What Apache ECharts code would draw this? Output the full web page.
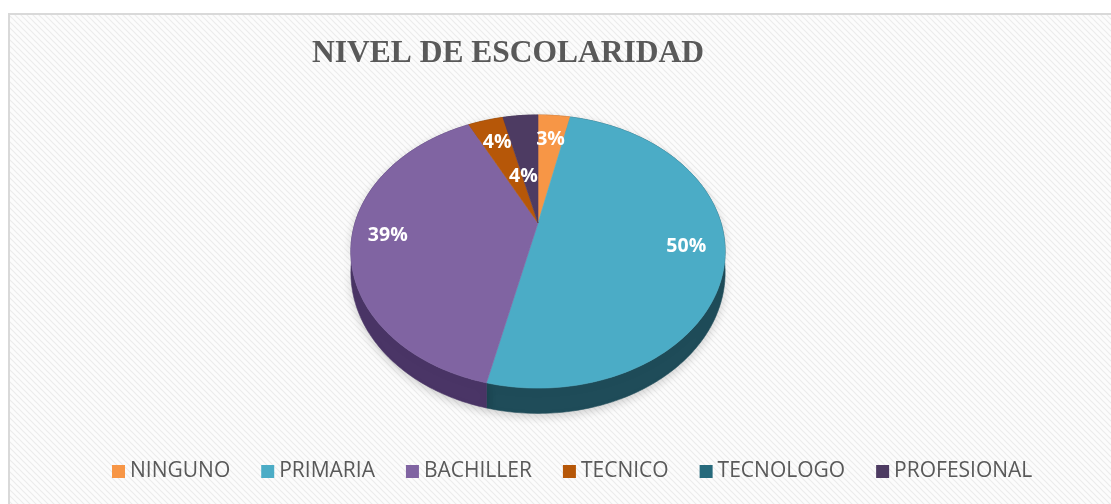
<!DOCTYPE html>
<html><head><meta charset="utf-8">
<script src="https://cdn.jsdelivr.net/npm/echarts@6/dist/echarts.min.js"></script>
<style>html,body{margin:0;padding:0;background:#fff}#c{width:1111px;height:504px}</style>
</head><body><div id="c"></div>
<script>
const titleText = 'NIVEL DE ESCOLARIDAD';
const categories = ['NINGUNO', 'PRIMARIA', 'BACHILLER', 'TECNICO', 'TECNOLOGO', 'PROFESIONAL'];
const values = [3.4, 50.2, 39.0, 3.7, 0, 3.7];

const topColors = ['#F79646', '#4BACC6', '#8064A2', '#B65708', '#276A7C', '#4D3B62'];
const sideColors = ['#9c5a22', '#1f4c59', '#4a3566', '#6d3505', '#17404b', '#2e2340'];
const labelFrac = [0.74, 0.8, 0.81, 0.75, 0.5, 0.39];
const labelDx = [0, 0, 0, 0, 0, -7];

const total = values.reduce((a, b) => a + b, 0);
const starts = [];
let acc = 0;
values.forEach(v => { starts.push(acc); acc += v; });

const geo = { cx: 538, cy: 223, R: 183, A: 130.6, k: 0.209, H: 20 };
function proj(phiDeg, f) {
  const p = phiDeg * Math.PI / 180;
  const c = Math.cos(p), s = Math.sin(p);
  const sc = 1 / (1 + geo.k * f * c);
  return [geo.cx + sc * f * geo.R * s, geo.cy - sc * f * geo.A * c, sc];
}
function arc(a0, a1, f, withDepth) {
  const n = Math.max(2, Math.ceil(Math.abs(a1 - a0)));
  const pts = [];
  for (let i = 0; i <= n; i++) {
    const a = a0 + (a1 - a0) * i / n;
    const q = proj(a, f);
    pts.push([q[0], q[1] + (withDepth ? geo.H * q[2] : 0)]);
  }
  return pts;
}
function angles(i) {
  return [starts[i] / total * 360, (starts[i] + values[i]) / total * 360];
}

// background pattern
const pc = document.createElement('canvas');
pc.width = 6; pc.height = 6;
const g = pc.getContext('2d');
g.fillStyle = '#fcfcfc'; g.fillRect(0, 0, 6, 6);
g.strokeStyle = '#ececec'; g.lineWidth = 1.2;
g.beginPath(); g.moveTo(-1, -1); g.lineTo(7, 7); g.moveTo(-1, 5); g.lineTo(1, 7); g.moveTo(5, -1); g.lineTo(7, 1); g.stroke();

const series = [];
// walls (side faces)
series.push({
  type: 'custom', name: '_wall', coordinateSystem: 'none', z: 1, silent: true,
  data: values.map((v, i) => [i, v]),
  renderItem: function (params, api) {
    const i = api.value(0);
    if (!api.value(1)) return null;
    const [a0, a1] = angles(i);
    const top = arc(a0, a1, 1, false);
    const bot = arc(a0, a1, 1, true).reverse();
    return {
      type: 'polygon',
      shape: { points: top.concat(bot) },
      style: { fill: sideColors[i], stroke: sideColors[i], lineWidth: 0.6,
               shadowBlur: 10, shadowColor: 'rgba(0,0,0,0.18)', shadowOffsetY: 3 }
    };
  }
});
// top faces, one series per category
categories.forEach((name, i) => {
  series.push({
    type: 'custom', name: name, coordinateSystem: 'none', z: 2,
    itemStyle: { color: topColors[i] },
    data: [[i, values[i]]],
    renderItem: function (params, api) {
      const idx = api.value(0);
      const v = api.value(1);
      if (!v) return null;
      const [a0, a1] = angles(idx);
      const pts = [[geo.cx, geo.cy]].concat(arc(a0, a1, 1, false));
      const mid = (a0 + a1) / 2;
      const lp = proj(mid, labelFrac[idx]);
      return {
        type: 'group',
        children: [
          { type: 'polygon', shape: { points: pts },
            style: { fill: topColors[idx], stroke: topColors[idx], lineWidth: 0.6 } },
          { type: 'text', z2: 10,
            style: { x: lp[0] + labelDx[idx], y: lp[1], text: Math.round(v / total * 100) + '%',
                     fill: '#ffffff', font: 'bold 19.5px "Open Sans"', align: 'center', verticalAlign: 'middle' } }
        ]
      };
    }
  });
});

const chart = echarts.init(document.getElementById('c'), null, { renderer: 'canvas' });
chart.setOption({
  animation: false,
  backgroundColor: '#ffffff',
  graphic: [{
    type: 'rect', z: -10, silent: true,
    shape: { x: 9, y: 14, width: 1200, height: 600 },
    style: { fill: { image: pc, repeat: 'repeat' }, stroke: '#d9d9d9', lineWidth: 2 }
  }],
  title: {
    text: titleText, left: 312, top: 38, padding: 0,
    textStyle: { fontFamily: 'Liberation Serif', fontWeight: 'bold', fontSize: 31.5, color: '#595959' }
  },
  legend: {
    data: categories, left: 112, top: 461, icon: 'rect',
    itemWidth: 13, itemHeight: 13, itemGap: 31, padding: 0,
    textStyle: { fontFamily: 'Open Sans', fontSize: 21, color: '#595959' }
  },
  series: series
});
</script>
</body></html>
